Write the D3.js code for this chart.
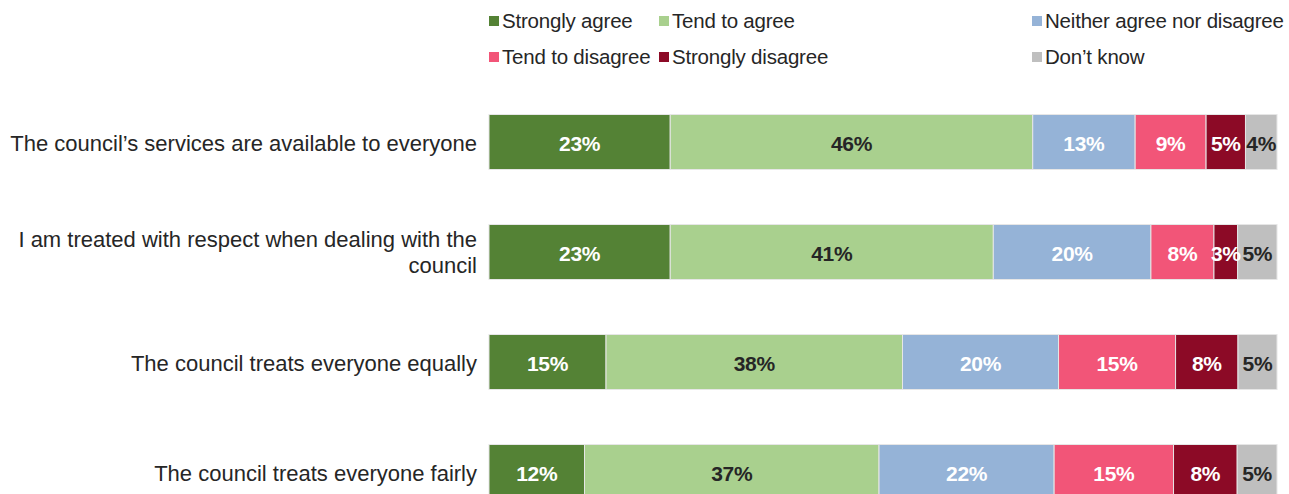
<!DOCTYPE html>
<html>
<head>
<meta charset="utf-8">
<script src="https://cdn.jsdelivr.net/npm/d3@7"></script>
<style>
  html, body { margin: 0; padding: 0; background: #fff; }
  svg { display: block; }
</style>
</head>
<body>
<svg id="chart" width="1289" height="494"></svg>
<script>
// Survey statements (one bar each)
const categories = [
  "The council\u2019s services are available to everyone",
  "I am treated with respect when dealing with the council",
  "The council treats everyone equally",
  "The council treats everyone fairly"
];
// Response options, in stacking order
const responses = ["Strongly agree", "Tend to agree", "Neither agree nor disagree",
                   "Tend to disagree", "Strongly disagree", "Don\u2019t know"];
// Percentages per response, one value per statement
const stronglyAgree   = [23, 23, 15, 12];
const tendToAgree     = [46, 41, 38, 37];
const neither         = [13, 20, 20, 22];
const tendToDisagree  = [9, 8, 15, 15];
const stronglyDisagree= [5, 3, 8, 8];
const dontKnow        = [4, 5, 5, 5];

const colors = ["#548235", "#A9D08E", "#95B3D7", "#F25578", "#8C0A26", "#BFBFBF"];
const labelColors = ["#ffffff", "#262626", "#ffffff", "#ffffff", "#ffffff", "#262626"];

const series = [stronglyAgree, tendToAgree, neither, tendToDisagree, stronglyDisagree, dontKnow];
const rows = categories.map((c, i) => {
  const r = { category: c };
  responses.forEach((k, j) => { r[k] = series[j][i]; });
  return r;
});

// 100% stacked: each bar is normalised to its own total
const stacked = d3.stack().keys(responses).offset(d3.stackOffsetExpand)(rows);

const svg = d3.select("#chart");
const x = d3.scaleLinear().domain([0, 1]).range([489, 1277]);
const y = d3.scaleBand().domain(categories).range([87, 527]).paddingInner(0.5).paddingOuter(0.25);

const sansFont = "'Liberation Sans', Arial, sans-serif";

const layers = svg.append("g").selectAll("g").data(stacked).join("g")
  .attr("fill", (d, i) => colors[i]);

layers.selectAll("rect").data(d => d.map(v => ({ v, cat: v.data.category }))).join("rect")
  .attr("x", d => x(d.v[0]))
  .attr("y", d => y(d.cat))
  .attr("width", d => x(d.v[1]) - x(d.v[0]))
  .attr("height", y.bandwidth())
  .attr("stroke", "#e6e6e6")
  .attr("stroke-width", 1);

// Value labels centred in each segment
stacked.forEach((layer, i) => {
  svg.append("g").selectAll("text").data(layer).join("text")
    .attr("x", d => (x(d[0]) + x(d[1])) / 2)
    .attr("y", d => y(d.data.category) + y.bandwidth() / 2 + 1)
    .attr("dy", "0.36em")
    .attr("text-anchor", "middle")
    .attr("font-family", sansFont)
    .attr("font-weight", "bold")
    .attr("font-size", 21)
    .attr("letter-spacing", -0.3)
    .attr("fill", labelColors[i])
    .text(d => d.data[responses[i]] + "%");
});

// Category axis on the left
const yAxis = d3.axisLeft(y).tickSize(0).tickPadding(12);
const ag = svg.append("g").attr("transform", "translate(489,2)").call(yAxis);
ag.select(".domain").remove();
ag.selectAll("text")
  .attr("font-family", sansFont)
  .attr("font-size", 22)
  .attr("fill", "#262626")
  .each(function(d) {
    const t = d3.select(this);
    if (d.startsWith("I am treated")) {
      t.text(null);
      t.append("tspan").attr("x", -12).attr("dy", "-0.3em").text("I am treated with respect when dealing with the");
      t.append("tspan").attr("x", -12).attr("dy", "1.15em").text("council");
    }
  });

// Legend: two rows of three
const legendX = [489, 659, 1032];
const legendY = [21, 57];
const lg = svg.append("g").selectAll("g").data(responses).join("g")
  .attr("transform", (d, i) => `translate(${legendX[i % 3]},${legendY[Math.floor(i / 3)]})`);
lg.append("rect").attr("x", 0).attr("y", -5).attr("width", 10).attr("height", 10)
  .attr("fill", (d, i) => colors[i]);
lg.append("text").attr("x", 13).attr("dy", "0.36em")
  .attr("font-family", sansFont)
  .attr("font-size", 20.5)
  .attr("letter-spacing", -0.2)
  .attr("fill", "#262626")
  .text(d => d);
</script>
</body>
</html>
